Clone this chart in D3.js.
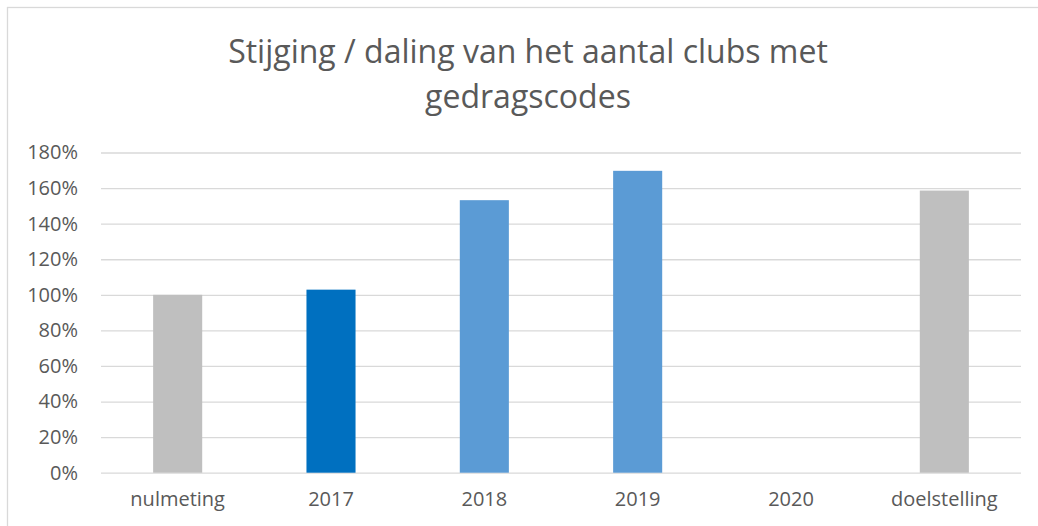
<!DOCTYPE html>
<html>
<head>
<meta charset="utf-8">
<script src="https://cdn.jsdelivr.net/npm/d3@7"></script>
<style>
  html, body { margin: 0; padding: 0; background: #fff; }
  svg { display: block; }
</style>
</head>
<body>
<div id="chart"></div>
<script>
// --- DATA ---
const CATEGORIES = ["nulmeting", "2017", "2018", "2019", "2020", "doelstelling"];
const VALUES = [1.00, 1.029, 1.532, 1.697, 0, 1.586];
const BAR_COLORS = ["#BFBFBF", "#0070C0", "#5B9BD5", "#5B9BD5", "#5B9BD5", "#BFBFBF"];
const Y_TICKS = [0, 0.2, 0.4, 0.6, 0.8, 1.0, 1.2, 1.4, 1.6, 1.8];
const TITLE_LINES = ["Stijging / daling van het aantal clubs met", "gedragscodes"];

// --- CONFIG ---
const WIDTH = 1038;
const HEIGHT = 526;
const PLOT = { left: 101, right: 1021, top: 152.5, bottom: 472.7 };
const FONT = "'Open Sans', 'Noto Sans', sans-serif";
const TEXT_COLOR = "#595959";
const GRID_COLOR = "#D9D9D9";

const svg = d3.select("#chart")
    .append("svg")
    .attr("width", WIDTH)
    .attr("height", HEIGHT)
    .style("font-family", FONT);

// outer chart frame (cropped on the right and bottom)
svg.append("rect")
    .attr("x", 7.5)
    .attr("y", 7.5)
    .attr("width", WIDTH + 20)
    .attr("height", HEIGHT + 20)
    .attr("fill", "#fff")
    .attr("stroke", GRID_COLOR)
    .attr("stroke-width", 1.3);

// scales
const x = d3.scaleBand()
    .domain(CATEGORIES)
    .range([PLOT.left, PLOT.right])
    .paddingInner(0.68)
    .paddingOuter(0.34);

const y = d3.scaleLinear()
    .domain([0, 1.8])
    .range([PLOT.bottom, PLOT.top]);

// title
svg.append("text")
    .attr("x", WIDTH / 2 + 9)
    .attr("y", 63)
    .attr("text-anchor", "middle")
    .attr("fill", TEXT_COLOR)
    .style("font-size", "32px")
    .selectAll("tspan")
    .data(TITLE_LINES)
    .join("tspan")
    .attr("x", WIDTH / 2 + 9)
    .attr("dy", (d, i) => i === 0 ? 0 : 45)
    .text(d => d);

// gridlines + y labels
const yAxis = d3.axisLeft(y)
    .tickValues(Y_TICKS)
    .tickFormat(d3.format(".0%"))
    .tickSize(-(PLOT.right - PLOT.left))
    .tickPadding(23);

svg.append("g")
    .attr("transform", `translate(${PLOT.left}, 0)`)
    .call(yAxis)
    .call(g => g.select(".domain").remove())
    .call(g => g.selectAll("line")
        .attr("stroke", GRID_COLOR)
        .attr("stroke-width", 1.3))
    .call(g => g.selectAll("text")
        .attr("fill", TEXT_COLOR)
        .style("font-size", "20px")
        .style("font-family", FONT));

// bars
svg.append("g")
    .selectAll("rect")
    .data(CATEGORIES.map((c, i) => ({ c, v: VALUES[i], color: BAR_COLORS[i] })))
    .join("rect")
    .attr("x", d => x(d.c))
    .attr("width", x.bandwidth())
    .attr("y", d => y(d.v))
    .attr("height", d => y(0) - y(d.v))
    .attr("fill", d => d.color);

// x axis labels
const xAxis = d3.axisBottom(x)
    .tickSize(0)
    .tickPadding(19);

svg.append("g")
    .attr("transform", `translate(0, ${PLOT.bottom})`)
    .call(xAxis)
    .call(g => g.select(".domain").remove())
    .call(g => g.selectAll("text")
        .attr("fill", TEXT_COLOR)
        .style("font-size", "20px")
        .style("font-family", FONT));
</script>
</body>
</html>
